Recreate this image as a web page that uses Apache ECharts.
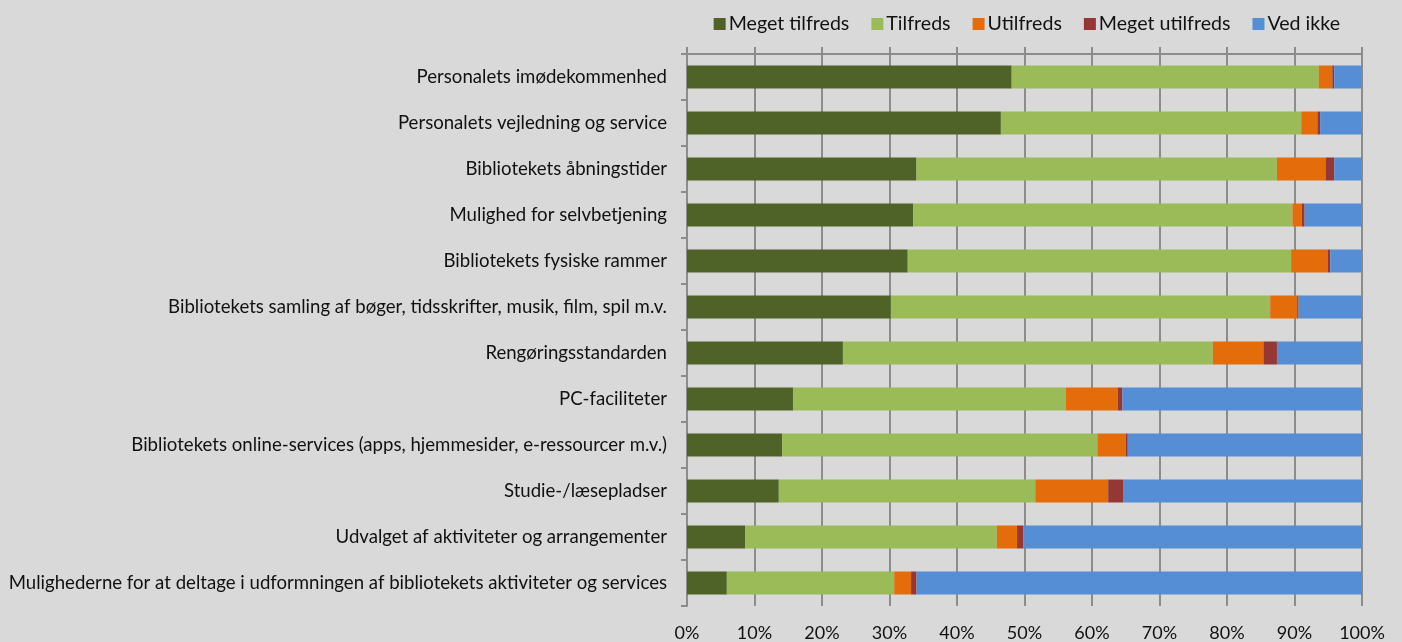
<!DOCTYPE html>
<html>
<head>
<meta charset="utf-8">
<script src="https://cdn.jsdelivr.net/npm/echarts@6/dist/echarts.min.js"></script>
<style>
html,body{margin:0;padding:0;background:#d9d9d9;}
#chart{width:1402px;height:642px;}
</style>
</head>
<body>
<div id="chart"></div>
<script>
const categories = [
  "Personalets imødekommenhed",
  "Personalets vejledning og service",
  "Bibliotekets åbningstider",
  "Mulighed for selvbetjening",
  "Bibliotekets fysiske rammer",
  "Bibliotekets samling af bøger, tidsskrifter, musik, film, spil m.v.",
  "Rengøringsstandarden",
  "PC-faciliteter",
  "Bibliotekets online-services (apps, hjemmesider, e-ressourcer m.v.)",
  "Studie-/læsepladser",
  "Udvalget af aktiviteter og arrangementer",
  "Mulighederne for at deltage i udformningen af bibliotekets aktiviteter og services"
];
const seriesNames = ["Meget tilfreds", "Tilfreds", "Utilfreds", "Meget utilfreds", "Ved ikke"];
const megetTilfreds  = [48.1, 46.5, 34.0, 33.5, 32.7, 30.2, 23.1, 15.7, 14.1, 13.6, 8.6, 5.9];
const tilfreds       = [45.5, 44.5, 53.4, 56.2, 56.8, 56.2, 54.8, 40.4, 46.7, 38.0, 37.3, 24.8];
const utilfreds      = [2.0, 2.4, 7.2, 1.4, 5.4, 4.0, 7.5, 7.7, 4.2, 10.8, 3.0, 2.5];
const megetUtilfreds = [0.3, 0.4, 1.3, 0.4, 0.4, 0.2, 2.0, 0.7, 0.3, 2.2, 0.9, 0.8];
const vedIkke        = [4.1, 6.2, 4.1, 8.5, 4.7, 9.4, 12.6, 35.5, 34.7, 35.4, 50.2, 66.0];
const xTicks = [0, 10, 20, 30, 40, 50, 60, 70, 80, 90, 100];

const colors = ["#4f6228", "#9bbb59", "#e46c0a", "#953735", "#558ed5"];
const values = [megetTilfreds, tilfreds, utilfreds, megetUtilfreds, vedIkke];
const FONT = "Lato";
const gridColor = "#8c8c8c";

const chart = echarts.init(document.getElementById('chart'), null, {renderer: 'canvas'});
chart.setOption({
  backgroundColor: '#d9d9d9',
  animation: false,
  color: colors,
  textStyle: {fontFamily: FONT},
  legend: {
    right: 57, top: 9,
    itemWidth: 12, itemHeight: 12, itemGap: 22,
    icon: 'rect',
    textStyle: {fontFamily: FONT, fontSize: 19.6, color: '#111', padding: [0,0,0,-2]},
    data: seriesNames
  },
  grid: {left: 687, right: 40, top: 54, bottom: 36, containLabel: false},
  xAxis: [{
    type: 'value', position: 'bottom', min: 0, max: 100, interval: 10,
    axisLine: {show: false}, axisTick: {show: false},
    axisLabel: {fontFamily: FONT, fontSize: 18, color: '#111', margin: 18,
      formatter: v => v + '%'},
    splitLine: {show: true, lineStyle: {color: gridColor, width: 2}}
  }, {
    type: 'value', position: 'top', min: 0, max: 100, interval: 10,
    axisLine: {show: true, lineStyle: {color: gridColor, width: 2}},
    axisTick: {show: true, length: 7, lineStyle: {color: gridColor, width: 2}},
    axisLabel: {show: false},
    splitLine: {show: false}
  }],
  yAxis: {
    type: 'category', inverse: true, data: categories,
    axisLine: {show: true, lineStyle: {color: gridColor, width: 2}},
    axisTick: {show: true, length: 6, lineStyle: {color: gridColor, width: 2}},
    axisLabel: {fontFamily: FONT, fontSize: 18.6, color: '#111', margin: 20},
    splitLine: {show: false}
  },
  series: seriesNames.map((n, i) => ({
    name: n, type: 'bar', stack: 'total', xAxisIndex: 0,
    barWidth: '50%',
    data: values[i],
    itemStyle: {color: colors[i]}
  }))
});
</script>
</body>
</html>
